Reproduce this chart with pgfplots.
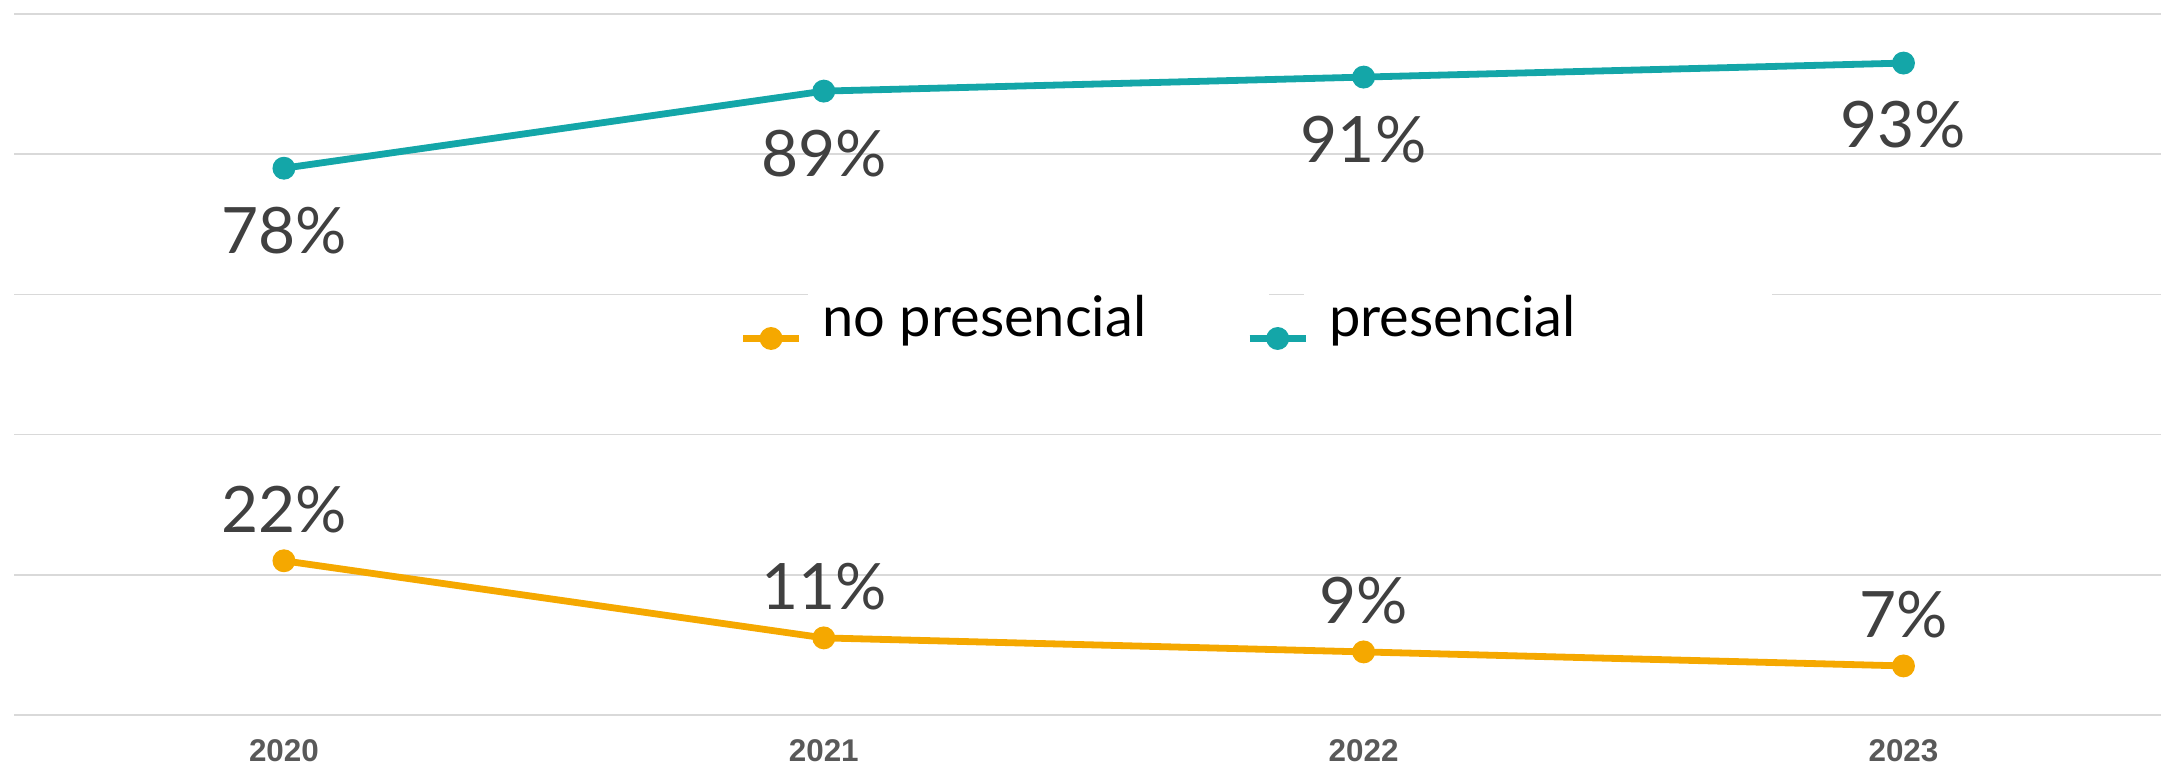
\documentclass[border=0pt]{standalone}
\usepackage{pgfplots}
\pgfplotsset{compat=1.18}
\usepackage{fontspec}
\setmainfont{Lato}
\newfontfamily\tickfont{Liberation Sans}
\definecolor{tealline}{HTML}{14A6A8}
\definecolor{orangeline}{HTML}{F5A800}
\definecolor{gridgray}{HTML}{D9D9D9}
\definecolor{labelgray}{HTML}{404040}
\definecolor{tickgray}{HTML}{595959}

\begin{document}
\begin{tikzpicture}
\begin{axis}[
  scale only axis,
  width=1073.5pt, height=350.5pt,
  xmin=-0.5, xmax=3.477,
  ymin=0, ymax=100,
  axis line style={draw=none},
  xtick={0,1,2,3},
  xticklabels={2020,2021,2022,2023},
  ytick={0,20,40,60,80,100},
  yticklabels={},
  major tick length=0pt,
  ymajorgrids=true,
  grid style={gridgray, line width=0.75pt},
  xticklabel style={font=\tickfont\bfseries\fontsize{15.7}{18}\selectfont, text=tickgray, yshift=-9pt},
  clip=false,
  /pgf/number format/assume math mode=true,
  legend columns=2,
  legend style={at={(0.335,0.565)}, anchor=west, draw=none, fill=none,
    font=\fontsize{28}{32}\selectfont,
    /tikz/every odd column/.append style={column sep=8pt},
    /tikz/every even column/.append style={column sep=48pt}},
  legend image code/.code={\draw[mark repeat=2, mark phase=2, #1]
    plot coordinates {(0pt,-10.5pt) (14pt,-10.5pt) (28pt,-10.5pt)};},
  every node near coord/.append style={font=\fontsize{32}{38}\selectfont, text=labelgray},
]

\addplot[color=orangeline, line width=3.4pt, mark=*, mark size=4pt,
  nodes near coords={\pgfmathprintnumber{\pgfplotspointmeta}\%},
  every node near coord/.append style={anchor=center, yshift=25.5pt}]
  coordinates {(0,22) (1,11) (2,9) (3,7)};
\addlegendentry{no presencial}

\addplot[color=tealline, line width=3.4pt, mark=*, mark size=4pt,
  nodes near coords={\pgfmathprintnumber{\pgfplotspointmeta}\%},
  every node near coord/.append style={anchor=center, yshift=-31pt}]
  coordinates {(0,78) (1,89) (2,91) (3,93)};
\addlegendentry{presencial}

% white mask where the legend box hides the 60 gridline
\fill[white] (axis cs:0.970,58) rectangle (axis cs:1.825,62);
\fill[white] (axis cs:1.889,58) rectangle (axis cs:2.757,62);

\end{axis}
\pgfresetboundingbox
\path[use as bounding box] ([shift={(-7pt,-28.5pt)}]current axis.south west)
  rectangle ([shift={(0pt,7pt)}]current axis.north east);
\end{tikzpicture}
\end{document}
